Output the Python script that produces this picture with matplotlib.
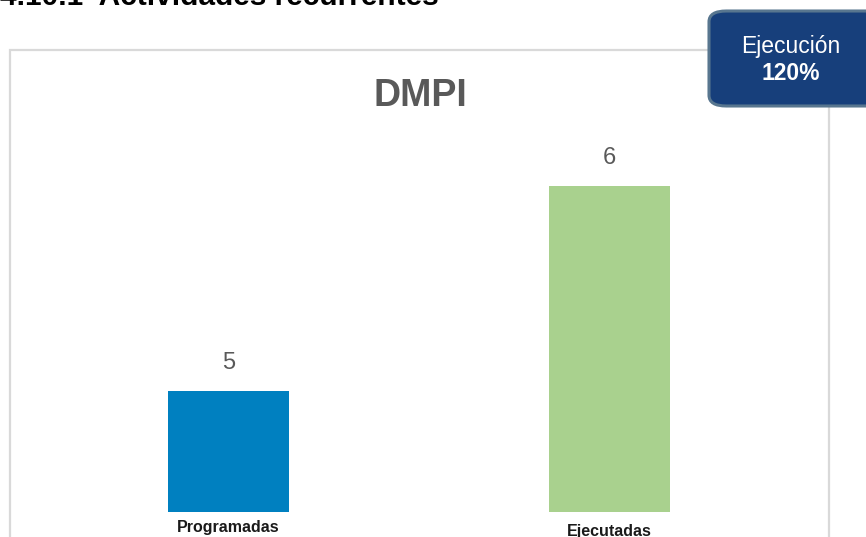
import matplotlib.pyplot as plt
from matplotlib.patches import Rectangle, FancyBboxPatch

plt.rcParams['font.family'] = ['Liberation Sans', 'DejaVu Sans']

categories = ['Programadas', 'Ejecutadas']
values = [5, 6]
colors = ['#0080C0', '#A9D18E']
ejecucion = '120%'

W, H = 866, 537
fig = plt.figure(figsize=(W / 100, H / 100), dpi=100)


def fx(px):
    return px / W


def fy(py):
    # pixel from top -> figure fraction
    return 1 - py / H


# heading, mostly cut off at the top of the page crop
fig.text(fx(0), fy(5), '4.10.1  Actividades recurrentes', fontsize=21.5,
         fontweight='bold', color='black', va='baseline', ha='left')

# chart border
fig.patches.append(Rectangle((fx(9.5), fy(560)), fx(829 - 9.5), (560 - 49.5) / H,
                             transform=fig.transFigure, fill=False,
                             edgecolor='#D9D9D9', lw=1.6))

# bars
ax = fig.add_axes([fx(38), fy(512), fx(762), 362 / H])
ax.bar(range(len(values)), values, width=0.315, color=colors)
ax.set_xlim(-0.5, 1.5)
ax.set_ylim(4.41, 4.41 + 362 / 205)
ax.axis('off')

for i, v in enumerate(values):
    ax.annotate(str(v), (i, v), xytext=(0, 12), textcoords='offset points',
                ha='center', va='bottom', fontsize=17, color='#595959')

label_off = [-11, -14]
for i, c in enumerate(categories):
    ax.annotate(c, (i, 4.41), xytext=(0, label_off[i]), textcoords='offset points',
                ha='center', va='center', fontsize=11.5, fontweight='bold',
                color='#1a1a1a', annotation_clip=False)

fig.text(fx(420), fy(96), 'DMPI', fontsize=27, fontweight='bold',
         color='#595959', ha='center', va='center')

# callout box
fig.patches.append(FancyBboxPatch((fx(709), fy(106)), fx(175), 95 / H,
                                  boxstyle='round,pad=0,rounding_size=0.02',
                                  transform=fig.transFigure,
                                  facecolor='#173F7B', edgecolor='#58768F', lw=2.2))
fig.text(fx(791), fy(47), 'Ejecución', fontsize=16.5, color='white',
         ha='center', va='center')
fig.text(fx(791), fy(74), ejecucion, fontsize=16.5, fontweight='bold',
         color='white', ha='center', va='center')

fig.savefig('out.png', dpi=100)
